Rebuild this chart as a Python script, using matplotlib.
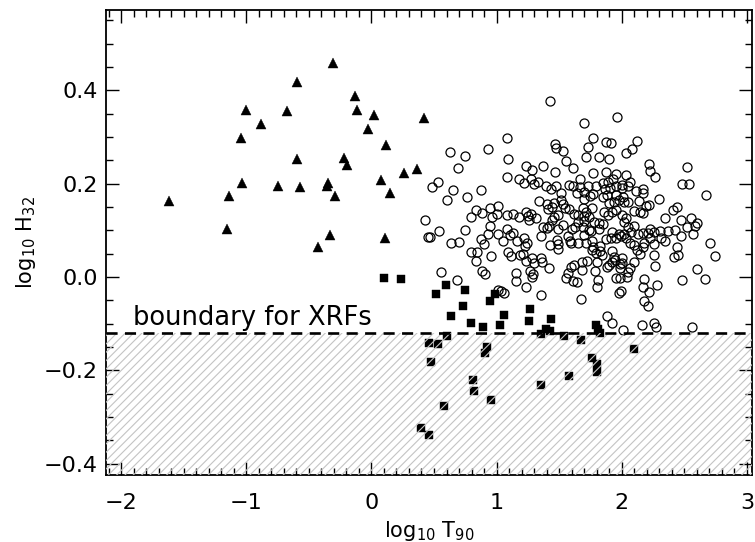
import matplotlib
matplotlib.use("Agg")
import matplotlib.pyplot as plt
from matplotlib.ticker import MultipleLocator

plt.rcParams['font.family'] = ['DejaVu Sans']
plt.rcParams['mathtext.default'] = 'regular'
plt.rcParams['hatch.linewidth'] = 0.8

# ---- data (log10 T90, log10 H32) ----
# short/hard bursts (filled triangles)
tri_x = [-0.308, -0.591, -0.130, -0.998, -0.675, -0.116, 0.017, -0.881, 0.424, -0.028,
         -1.043, 0.116, -0.591, -0.217, -0.196, 0.262, 0.364, -1.030, -0.743, -0.567,
         -0.348, -0.356, 0.078, -0.289, 0.145, -1.137, -1.616, -1.153, -0.327, 0.108,
         -0.423]
tri_y = [0.459, 0.418, 0.388, 0.357, 0.356, 0.358, 0.347, 0.328, 0.341, 0.318,
         0.298, 0.283, 0.252, 0.256, 0.239, 0.223, 0.231, 0.201, 0.196, 0.193,
         0.202, 0.195, 0.208, 0.174, 0.181, 0.174, 0.163, 0.104, 0.090, 0.083,
         0.065]

# soft bursts (filled squares)
sq_x = [0.097, 0.238, 0.592, 0.512, 0.744, 0.984, 0.944, 0.728, 1.264, 0.632,
        1.056, 0.792, 0.888, 1.024, 1.256, 1.432, 1.357, 1.395, 1.429, 1.536,
        1.672, 1.791, 1.813, 1.823, 0.600, 0.462, 0.534, 0.923, 0.904, 0.480,
        1.765, 1.803, 1.803, 0.808, 0.816, 1.576, 1.352, 0.952, 0.580, 0.398,
        0.460, 2.100]
sq_y = [-0.001, -0.004, -0.018, -0.037, -0.028, -0.036, -0.052, -0.063, -0.069, -0.084,
        -0.082, -0.099, -0.106, -0.103, -0.094, -0.089, -0.122, -0.112, -0.116, -0.127,
        -0.135, -0.103, -0.112, -0.119, -0.127, -0.141, -0.144, -0.149, -0.163, -0.182,
        -0.174, -0.186, -0.203, -0.221, -0.244, -0.211, -0.231, -0.264, -0.276, -0.324,
        -0.339, -0.155]

# long bursts (open circles)
circ_x = [1.424, 1.965, 1.696, 1.083, 1.768, 1.874, 1.912, 2.125, 0.627, 0.750,
          0.931, 1.464, 1.477, 1.528, 2.085, 2.037, 0.694, 1.091, 1.552, 1.613,
          1.715, 1.819, 1.901, 1.232, 1.283, 1.373, 1.467, 1.768, 1.874, 1.955,
          2.035, 2.216, 2.229, 2.264, 2.523, 0.481, 0.531, 0.654, 0.766, 0.875,
          0.601, 1.080, 1.179, 1.216, 1.278, 1.297, 1.329, 1.392, 1.435, 1.475,
          1.582, 1.611, 1.665, 1.665, 1.729, 1.795, 1.849, 1.865, 1.929, 1.955,
          2.003, 2.049, 2.113, 2.166, 2.481, 2.539, 2.670, 0.430, 0.467, 0.449,
          0.537, 0.633, 0.702, 0.747, 0.795, 0.835, 0.886, 0.950, 1.011, 0.961,
          1.001, 0.945, 0.929, 0.902, 0.878, 0.846, 0.793, 0.833, 0.955, 1.009,
          1.054, 1.080, 1.131, 1.179, 1.086, 1.134, 1.110, 1.089, 1.118, 1.163,
          1.230, 1.243, 1.251, 1.278, 1.259, 1.342, 1.403, 1.414, 1.443, 1.518,
          1.529, 1.545, 1.494, 1.417, 1.403, 1.355, 1.425, 1.481, 1.494, 1.529,
          1.579, 1.617, 1.654, 1.689, 1.713, 1.766, 1.697, 1.745, 1.774, 1.849,
          1.878, 1.899, 1.950, 2.009, 2.051, 2.097, 2.147, 2.193, 2.219, 2.294,
          2.347, 2.409, 2.441, 2.473, 2.521, 2.555, 2.598, 2.582, 2.707, 2.742,
          2.601, 2.662, 2.478, 1.606, 1.625, 1.649, 1.700, 1.742, 1.779, 1.822,
          1.849, 1.691, 1.737, 1.702, 1.755, 1.568, 1.595, 1.651, 1.715, 1.774,
          1.827, 1.870, 1.913, 1.923, 1.979, 2.019, 2.035, 2.067, 2.049, 2.095,
          2.129, 2.171, 2.206, 2.229, 2.261, 2.309, 2.368, 2.429, 2.473, 2.342,
          2.261, 2.177, 2.118, 2.142, 2.259, 2.267, 2.443, 2.451, 2.419, 1.921,
          1.942, 1.985, 2.001, 2.062, 2.051, 2.038, 1.982, 1.841, 1.806, 1.766,
          1.723, 1.686, 1.617, 1.595, 1.574, 1.553, 1.611, 1.641, 1.785, 1.809,
          1.806, 1.675, 1.355, 1.238, 1.155, 1.153, 1.291, 1.265, 1.214, 1.185,
          1.238, 1.299, 1.353, 1.363, 1.422, 0.881, 0.905, 0.683, 0.553, 1.009,
          1.033, 1.059, 1.990, 1.980, 2.179, 2.169, 2.215, 2.282, 2.177, 2.209,
          1.885, 1.925, 2.008, 2.164, 2.259, 2.275, 2.564,
          1.728, 1.645, 1.698, 1.893, 1.906, 2.005, 2.063, 1.458, 1.512, 1.237,
          1.312, 1.371, 1.440, 1.493, 1.458, 1.698, 1.818, 1.858, 1.893, 1.919,
          1.957, 1.938, 1.978, 2.018, 2.005, 2.037, 2.018, 1.991, 2.071, 1.951,
          1.584, 1.760, 1.824, 1.797, 1.885, 1.925, 1.983, 1.938, 2.005, 1.219,
          1.285, 1.493, 1.680, 1.898, 1.951, 1.285, 2.167, 2.141, 2.169, 2.567,
          2.223, 2.314, 2.101, 2.167, 2.101]
circ_y = [0.378, 0.342, 0.331, 0.298, 0.298, 0.289, 0.288, 0.292, 0.267, 0.260,
          0.275, 0.286, 0.276, 0.269, 0.274, 0.265, 0.233, 0.253, 0.248, 0.233,
          0.258, 0.258, 0.253, 0.238, 0.229, 0.237, 0.226, 0.223, 0.226, 0.221,
          0.218, 0.242, 0.227, 0.215, 0.236, 0.193, 0.204, 0.187, 0.171, 0.186,
          0.166, 0.215, 0.211, 0.201, 0.209, 0.200, 0.204, 0.195, 0.189, 0.195,
          0.198, 0.195, 0.209, 0.193, 0.195, 0.195, 0.202, 0.188, 0.209, 0.195,
          0.191, 0.195, 0.184, 0.189, 0.200, 0.200, 0.175, 0.122, 0.086, 0.085,
          0.098, 0.073, 0.076, 0.100, 0.129, 0.143, 0.137, 0.148, 0.153, 0.128,
          0.135, 0.110, 0.093, 0.070, 0.081, 0.053, 0.054, 0.035, 0.046, 0.092,
          0.077, 0.134, 0.135, 0.129, 0.103, 0.095, 0.090, 0.053, 0.046, 0.077,
          0.066, 0.073, 0.131, 0.136, 0.122, 0.163, 0.156, 0.145, 0.150, 0.165,
          0.156, 0.148, 0.132, 0.109, 0.106, 0.089, 0.068, 0.080, 0.061, 0.112,
          0.146, 0.136, 0.134, 0.147, 0.140, 0.149, 0.167, 0.173, 0.177, 0.172,
          0.176, 0.158, 0.176, 0.171, 0.161, 0.142, 0.140, 0.153, 0.154, 0.167,
          0.126, 0.143, 0.150, 0.122, 0.108, 0.126, 0.115, 0.109, 0.073, 0.046,
          0.018, -0.004, -0.007, 0.102, 0.107, 0.117, 0.120, 0.129, 0.118, 0.115,
          0.114, 0.108, 0.101, 0.090, 0.098, 0.087, 0.072, 0.072, 0.073, 0.065,
          0.067, 0.081, 0.083, 0.097, 0.093, 0.092, 0.083, 0.073, 0.108, 0.110,
          0.093, 0.095, 0.095, 0.103, 0.097, 0.099, 0.099, 0.101, 0.088, 0.078,
          0.071, 0.073, 0.058, 0.049, 0.047, 0.023, 0.065, 0.048, 0.043, 0.056,
          0.036, 0.029, 0.031, 0.019, 0.010, 0.000, -0.003, 0.047, 0.033, 0.058,
          0.035, 0.033, 0.026, 0.022, 0.008, -0.002, -0.008, -0.011, 0.013, -0.007,
          -0.021, -0.047, -0.039, -0.021, 0.009, -0.008, 0.006, 0.013, 0.049, 0.047,
          0.035, 0.031, 0.040, 0.033, 0.020, 0.013, 0.006, -0.007, 0.011, -0.028,
          -0.030, -0.035, -0.030, -0.035, -0.005, -0.022, -0.032, -0.017, -0.052, -0.061,
          -0.083, -0.098, -0.113, -0.102, -0.098, -0.107, -0.107,
          0.278, 0.179, 0.183, 0.204, 0.190, 0.197, 0.204, 0.159, 0.179, 0.140,
          0.127, 0.108, 0.122, 0.104, 0.129, 0.131, 0.104, 0.140, 0.134, 0.140,
          0.143, 0.161, 0.165, 0.160, 0.133, 0.127, 0.118, 0.088, 0.097, 0.083,
          0.077, 0.077, 0.056, 0.051, 0.022, 0.033, 0.020, 0.043, 0.040, 0.083,
          0.040, 0.070, 0.015, 0.026, -0.003, 0.001, 0.179, 0.163, 0.138, 0.092,
          0.083, 0.083, 0.068, 0.065, 0.033]

xrf_boundary = -0.12
boundary_text = "boundary for XRFs"
x_label = r"log$_{10}$ T$_{90}$"
y_label = r"log$_{10}$ H$_{32}$"

# ---- figure ----
fig = plt.figure(figsize=(7.55, 5.42), dpi=100)
ax = fig.add_axes([0.1404, 0.1236, 0.8556, 0.8579])
ax.set_xlim(-2.12, 3.04)
ax.set_ylim(-0.424, 0.572)

# hatched XRF region
ax.axhspan(-1.0, xrf_boundary, facecolor='none', edgecolor='#c4c4c4',
           hatch='////', linewidth=0, zorder=4)
ax.axhline(xrf_boundary, color='black', lw=1.9, dashes=(4.2, 2.8), zorder=5)

ax.plot(circ_x, circ_y, 'o', ms=6.5, mfc='none', mec='black', mew=0.9,
        linestyle='none', zorder=3)
ax.plot(tri_x, tri_y, '^', ms=7.4, mfc='black', mec='black', mew=0.3,
        linestyle='none', zorder=3)
ax.plot(sq_x, sq_y, 's', ms=5.8, mfc='black', mec='black', mew=0.3,
        linestyle='none', zorder=3)

ax.text(-1.904, -0.103, boundary_text, fontsize=18.5, va='baseline', ha='left',
        zorder=6)

ax.xaxis.set_major_locator(MultipleLocator(1))
ax.xaxis.set_minor_locator(MultipleLocator(0.1))
ax.yaxis.set_major_locator(MultipleLocator(0.2))
ax.yaxis.set_minor_locator(MultipleLocator(0.05))
ax.tick_params(which='both', direction='in', top=True, right=True, width=1.0,
               labelsize=16)
ax.tick_params(which='major', length=9.5)
ax.tick_params(which='minor', length=5)
ax.tick_params(axis='x', which='major', pad=13)
ax.tick_params(axis='y', which='major', pad=6)
for s in ax.spines.values():
    s.set_linewidth(1.3)

ax.set_xlabel(x_label, fontsize=15, labelpad=4)
ax.set_ylabel(y_label, fontsize=15, labelpad=4)

fig.savefig("out.png", dpi=100)
